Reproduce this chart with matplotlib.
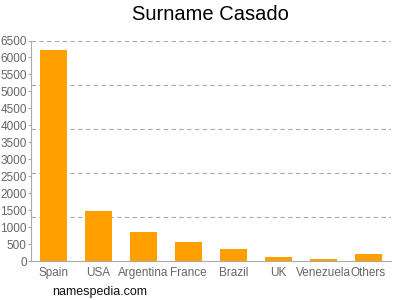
import matplotlib
matplotlib.use("Agg")
import matplotlib.pyplot as plt

plt.rcParams["font.family"] = ["Liberation Sans", "DejaVu Sans"]

countries = ["Spain", "USA", "Argentina", "France", "Brazil", "UK", "Venezuela", "Others"]
counts = [6230, 1475, 860, 550, 360, 105, 65, 210]
yticks = list(range(0, 6501, 500))
grid_levels = [1300, 2600, 3900, 5200, 6500]

fig = plt.figure(figsize=(4, 3), dpi=100)
ax = fig.add_axes([0.0775, 0.13, 0.9, 0.735])

ax.bar(range(len(countries)), counts, width=0.62, color="#ffa000", zorder=3)
for g in grid_levels:
    ax.axhline(g, color="#aaaaaa", linestyle=(0, (4, 3)), linewidth=0.8, zorder=1)

ax.set_xlim(-0.5, len(countries) - 0.5)
ax.set_ylim(0, 6500)
ax.set_yticks(yticks)
ax.set_xticks(range(len(countries)))
ax.set_xticklabels(countries)
ax.tick_params(axis="both", colors="#aaaaaa", labelsize=8.5, length=2, width=0.8)
ax.tick_params(axis="x", length=0, pad=4)
ax.tick_params(axis="y", pad=1)
for lbl in ax.get_xticklabels() + ax.get_yticklabels():
    lbl.set_color("#666666")

for side in ["top", "right"]:
    ax.spines[side].set_visible(False)
for side in ["left", "bottom"]:
    ax.spines[side].set_color("#aaaaaa")
    ax.spines[side].set_linewidth(0.8)

fig.suptitle("Surname Casado", fontsize=14.5, x=0.525, y=0.985)
fig.text(0.13, 0.018, "namespedia.com", fontsize=9, color="#111111")

fig.savefig("out.png", dpi=100)
